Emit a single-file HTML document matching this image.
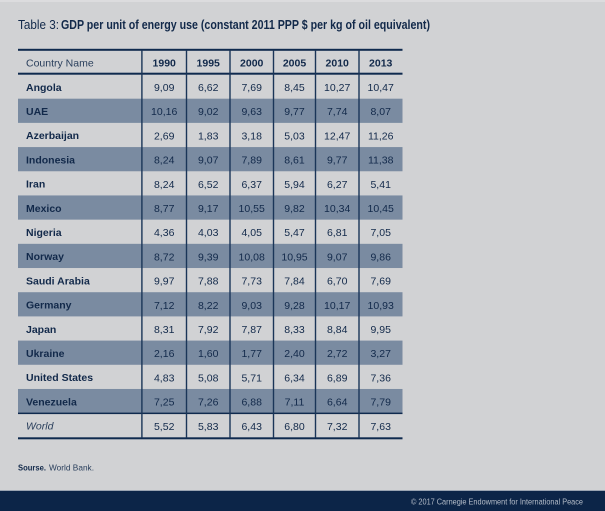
<!DOCTYPE html>
<html><head><meta charset="utf-8"><style>
html,body{margin:0;padding:0;background:#d1d2d4;}
svg{display:block;}
text{font-family:"Liberation Sans",sans-serif;fill:#12294a;}
.n{font-size:10.5px;text-anchor:middle;}
.c{font-size:10.5px;font-weight:bold;}
.y{font-size:10.5px;font-weight:bold;text-anchor:middle;}
</style></head><body>
<svg width="605" height="511" viewBox="0 0 605 511" xmlns="http://www.w3.org/2000/svg">
<rect x="0" y="0" width="605" height="511" fill="#d1d2d4"/>
<rect x="0" y="0" width="605" height="2" fill="#dcdcde"/>
<text x="18" y="29" font-size="12.5" textLength="41" lengthAdjust="spacingAndGlyphs">Table 3:</text>
<text x="61" y="29" font-size="12.5" font-weight="bold" textLength="369" lengthAdjust="spacingAndGlyphs">GDP per unit of energy use (constant 2011  PPP $ per kg of oil equivalent)</text>

<g fill="#7a8ba1">
<rect x="18" y="98.69" width="384.5" height="24.19"/>
<rect x="18" y="147.07" width="384.5" height="24.19"/>
<rect x="18" y="195.45" width="384.5" height="24.19"/>
<rect x="18" y="243.83" width="384.5" height="24.19"/>
<rect x="18" y="292.21" width="384.5" height="24.19"/>
<rect x="18" y="340.59" width="384.5" height="24.19"/>
<rect x="18" y="388.97" width="384.5" height="24.19"/>
</g>

<g fill="#0f2a4e">
<rect x="18" y="48.8" width="384.5" height="2"/>
<rect x="18" y="72.7" width="384.5" height="2"/>
<rect x="18" y="412.6" width="384.5" height="1.5"/>
<rect x="18" y="437.3" width="384.5" height="2"/>
</g>
<g fill="#1a3558">
<rect x="141.2" y="50" width="1.4" height="388"/>
<rect x="185.8" y="50" width="1.4" height="388"/>
<rect x="229.3" y="50" width="1.4" height="388"/>
<rect x="272.8" y="50" width="1.4" height="388"/>
<rect x="314.8" y="50" width="1.4" height="388"/>
<rect x="358.3" y="50" width="1.4" height="388"/>
</g>

<text x="26" y="66.5" font-size="10.5" style="fill:#2a3f5c">Country Name</text>
<text class="y" x="164.2" y="66.5">1990</text>
<text class="y" x="208.2" y="66.5">1995</text>
<text class="y" x="251.7" y="66.5">2000</text>
<text class="y" x="294.5" y="66.5">2005</text>
<text class="y" x="337.2" y="66.5">2010</text>
<text class="y" x="380.7" y="66.5">2013</text>

<g>
<text class="c" x="26" y="90.8">Angola</text>
<text class="n" x="164.2" y="91">9,09</text><text class="n" x="208.2" y="91">6,62</text><text class="n" x="251.7" y="91">7,69</text><text class="n" x="294.5" y="91">8,45</text><text class="n" x="337.2" y="91">10,27</text><text class="n" x="380.7" y="91">10,47</text>

<text class="c" x="26" y="115">UAE</text>
<text class="n" x="164.2" y="115.2">10,16</text><text class="n" x="208.2" y="115.2">9,02</text><text class="n" x="251.7" y="115.2">9,63</text><text class="n" x="294.5" y="115.2">9,77</text><text class="n" x="337.2" y="115.2">7,74</text><text class="n" x="380.7" y="115.2">8,07</text>

<text class="c" x="26" y="139.2">Azerbaijan</text>
<text class="n" x="164.2" y="139.4">2,69</text><text class="n" x="208.2" y="139.4">1,83</text><text class="n" x="251.7" y="139.4">3,18</text><text class="n" x="294.5" y="139.4">5,03</text><text class="n" x="337.2" y="139.4">12,47</text><text class="n" x="380.7" y="139.4">11,26</text>

<text class="c" x="26" y="163.4">Indonesia</text>
<text class="n" x="164.2" y="163.6">8,24</text><text class="n" x="208.2" y="163.6">9,07</text><text class="n" x="251.7" y="163.6">7,89</text><text class="n" x="294.5" y="163.6">8,61</text><text class="n" x="337.2" y="163.6">9,77</text><text class="n" x="380.7" y="163.6">11,38</text>

<text class="c" x="26" y="187.6">Iran</text>
<text class="n" x="164.2" y="187.8">8,24</text><text class="n" x="208.2" y="187.8">6,52</text><text class="n" x="251.7" y="187.8">6,37</text><text class="n" x="294.5" y="187.8">5,94</text><text class="n" x="337.2" y="187.8">6,27</text><text class="n" x="380.7" y="187.8">5,41</text>

<text class="c" x="26" y="211.8">Mexico</text>
<text class="n" x="164.2" y="212">8,77</text><text class="n" x="208.2" y="212">9,17</text><text class="n" x="251.7" y="212">10,55</text><text class="n" x="294.5" y="212">9,82</text><text class="n" x="337.2" y="212">10,34</text><text class="n" x="380.7" y="212">10,45</text>

<text class="c" x="26" y="236">Nigeria</text>
<text class="n" x="164.2" y="236.2">4,36</text><text class="n" x="208.2" y="236.2">4,03</text><text class="n" x="251.7" y="236.2">4,05</text><text class="n" x="294.5" y="236.2">5,47</text><text class="n" x="337.2" y="236.2">6,81</text><text class="n" x="380.7" y="236.2">7,05</text>

<text class="c" x="26" y="260.2">Norway</text>
<text class="n" x="164.2" y="260.4">8,72</text><text class="n" x="208.2" y="260.4">9,39</text><text class="n" x="251.7" y="260.4">10,08</text><text class="n" x="294.5" y="260.4">10,95</text><text class="n" x="337.2" y="260.4">9,07</text><text class="n" x="380.7" y="260.4">9,86</text>

<text class="c" x="26" y="284.4">Saudi Arabia</text>
<text class="n" x="164.2" y="284.6">9,97</text><text class="n" x="208.2" y="284.6">7,88</text><text class="n" x="251.7" y="284.6">7,73</text><text class="n" x="294.5" y="284.6">7,84</text><text class="n" x="337.2" y="284.6">6,70</text><text class="n" x="380.7" y="284.6">7,69</text>

<text class="c" x="26" y="308.6">Germany</text>
<text class="n" x="164.2" y="308.8">7,12</text><text class="n" x="208.2" y="308.8">8,22</text><text class="n" x="251.7" y="308.8">9,03</text><text class="n" x="294.5" y="308.8">9,28</text><text class="n" x="337.2" y="308.8">10,17</text><text class="n" x="380.7" y="308.8">10,93</text>

<text class="c" x="26" y="332.8">Japan</text>
<text class="n" x="164.2" y="333">8,31</text><text class="n" x="208.2" y="333">7,92</text><text class="n" x="251.7" y="333">7,87</text><text class="n" x="294.5" y="333">8,33</text><text class="n" x="337.2" y="333">8,84</text><text class="n" x="380.7" y="333">9,95</text>

<text class="c" x="26" y="357">Ukraine</text>
<text class="n" x="164.2" y="357.2">2,16</text><text class="n" x="208.2" y="357.2">1,60</text><text class="n" x="251.7" y="357.2">1,77</text><text class="n" x="294.5" y="357.2">2,40</text><text class="n" x="337.2" y="357.2">2,72</text><text class="n" x="380.7" y="357.2">3,27</text>

<text class="c" x="26" y="381.2">United States</text>
<text class="n" x="164.2" y="381.4">4,83</text><text class="n" x="208.2" y="381.4">5,08</text><text class="n" x="251.7" y="381.4">5,71</text><text class="n" x="294.5" y="381.4">6,34</text><text class="n" x="337.2" y="381.4">6,89</text><text class="n" x="380.7" y="381.4">7,36</text>

<text class="c" x="26" y="405.4">Venezuela</text>
<text class="n" x="164.2" y="405.6">7,25</text><text class="n" x="208.2" y="405.6">7,26</text><text class="n" x="251.7" y="405.6">6,88</text><text class="n" x="294.5" y="405.6">7,11</text><text class="n" x="337.2" y="405.6">6,64</text><text class="n" x="380.7" y="405.6">7,79</text>

<text x="26" y="429.6" font-size="10.5" font-style="italic" style="fill:#2a3f5c">World</text>
<text class="n" x="164.2" y="429.8">5,52</text><text class="n" x="208.2" y="429.8">5,83</text><text class="n" x="251.7" y="429.8">6,43</text><text class="n" x="294.5" y="429.8">6,80</text><text class="n" x="337.2" y="429.8">7,32</text><text class="n" x="380.7" y="429.8">7,63</text>
</g>

<text x="18" y="470.5" font-size="8.5" font-weight="bold" textLength="28" lengthAdjust="spacingAndGlyphs">Sourse.</text>
<text x="49" y="470.5" font-size="8.5" textLength="45" lengthAdjust="spacingAndGlyphs" style="fill:#2a3f5c">World Bank.</text>

<rect x="0" y="490" width="605" height="1" fill="#9aa4b2"/>
<rect x="0" y="491" width="605" height="20" fill="#0c2548"/>
<text x="411" y="504.5" font-size="8" textLength="172" lengthAdjust="spacingAndGlyphs" style="fill:#b4bcc8">© 2017 Carnegie Endowment for International Peace</text>
</svg>
</body></html>
